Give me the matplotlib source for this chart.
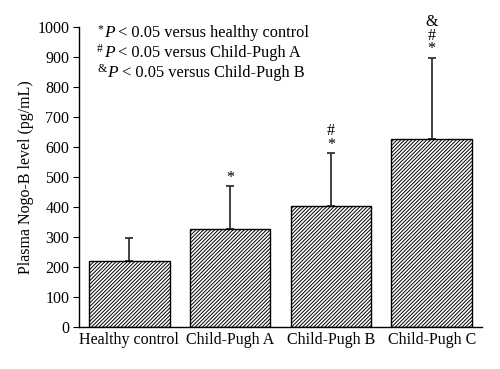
import matplotlib.pyplot as plt
from matplotlib.transforms import IdentityTransform
import numpy as np

plt.rcParams['font.family'] = ['Liberation Serif', 'DejaVu Serif']

groups = ["Healthy control", "Child-Pugh A", "Child-Pugh B", "Child-Pugh C"]
means = [220, 327, 402, 625]
sd_upper = [77, 143, 178, 273]
marks = ["", "*", "#\n*", "&\n#\n*"]
notes = [("*", "versus healthy control"),
         ("#", "versus Child-Pugh A"),
         ("&", "versus Child-Pugh B")]

fig = plt.figure(figsize=(5, 3.69), dpi=100)
ax = fig.add_axes([0.158, 0.114, 0.806, 0.813])

x = np.arange(len(groups))
plt.rcParams['hatch.linewidth'] = 0.7
ax.bar(x, means, width=0.8, color='white', edgecolor='black', hatch='/' * 9, linewidth=1.0, zorder=2)
ax.errorbar(x, means, yerr=[np.zeros(len(x)), sd_upper], fmt='none', ecolor='#333333',
            elinewidth=1.3, capsize=3, capthick=1.3, zorder=1)

for xi, m, s, lab in zip(x, means, sd_upper, marks):
    if lab:
        ax.text(xi, m + s + 1, lab, ha='center', va='bottom', fontsize=11.5, linespacing=0.8)

# footnote lines: superscript symbol, italic P, rest
r = fig.canvas.get_renderer()
x0, y0 = 97, 369 - 37
for i, (sym, txt) in enumerate(notes):
    yb = y0 - i * 20
    t = fig.text(x0, yb + 5, sym, transform=IdentityTransform(), fontsize=8.5, va='baseline')
    w = t.get_window_extent(r).width
    t = fig.text(x0 + w + 1, yb, "P", transform=IdentityTransform(), fontsize=12.5, style='italic', va='baseline')
    w2 = t.get_window_extent(r).width
    fig.text(x0 + w + w2 + 5, yb, "< 0.05 " + txt, transform=IdentityTransform(), fontsize=11.8, va='baseline')

ax.set_xlim(-0.5, 3.5)
ax.set_ylim(0, 1000)
ax.set_yticks(range(0, 1001, 100))
ax.set_xticks(x)
ax.set_xticklabels(groups, fontsize=11.5)
ax.tick_params(axis='x', length=0, pad=4)
ax.tick_params(axis='y', direction='out', length=4, labelsize=11.5, pad=3)
ax.spines['top'].set_visible(False)
ax.spines['right'].set_visible(False)
ax.spines['left'].set_linewidth(1.0)
ax.spines['bottom'].set_linewidth(1.0)
ax.set_ylabel("Plasma Nogo-B level (pg/mL)", fontsize=11.5, labelpad=2)

fig.savefig("out.png", dpi=100)
